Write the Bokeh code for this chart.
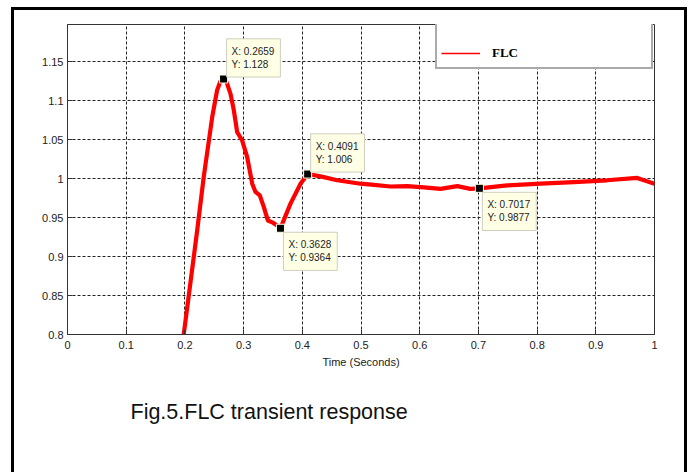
from bokeh.plotting import figure
from bokeh.layouts import column
from bokeh.models import (Range1d, FixedTicker, Label, Legend, LegendItem, Title)
from bokeh.embed import file_html
from bokeh.resources import INLINE

# ---- data ----
t = [0.185, 0.198, 0.215, 0.221, 0.232, 0.2465, 0.255, 0.2605, 0.2659, 0.271, 0.2777,
     0.2833, 0.289, 0.2976, 0.306, 0.3147, 0.3203, 0.3276, 0.3345, 0.3413, 0.3487,
     0.357, 0.3628, 0.3799, 0.397, 0.4091, 0.431, 0.4594, 0.499, 0.522, 0.550, 0.5787,
     0.607, 0.6354, 0.664, 0.6865, 0.7017, 0.749, 0.806, 0.8625, 0.919, 0.9705, 1.0]
flc = [0.725, 0.80, 0.899, 0.934, 1.002, 1.079, 1.114, 1.125, 1.128, 1.124, 1.109,
       1.088, 1.060, 1.049, 1.028, 0.9936, 0.983, 0.9786, 0.9636, 0.9464, 0.944,
       0.94, 0.9364, 0.968, 0.9936, 1.006, 1.003, 0.998, 0.9936, 0.992, 0.990, 0.9905,
       0.989, 0.987, 0.9905, 0.987, 0.9877, 0.9914, 0.9936, 0.9957, 0.998, 1.001, 0.9936]

tip_x = [0.2659, 0.3628, 0.4091, 0.7017]
tip_y = [1.128, 0.9364, 1.006, 0.9877]
tip_above = [True, False, True, False]

x_ticks = [0, 0.1, 0.2, 0.3, 0.4, 0.5, 0.6, 0.7, 0.8, 0.9, 1.0]
x_tick_labels = ["0", "0.1", "0.2", "0.3", "0.4", "0.5", "0.6", "0.7", "0.8", "0.9", "1"]
y_ticks = [0.8, 0.85, 0.9, 0.95, 1.0, 1.05, 1.1, 1.15]
y_tick_labels = ["0.8", "0.85", "0.9", "0.95", "1", "1.05", "1.1", "1.15"]

series_name = "FLC"
x_label = "Time (Seconds)"
caption = "Fig.5.FLC transient response"

# ---- figure ----
p = figure(width=670, height=462, output_backend="svg", toolbar_location=None,
           x_range=Range1d(0, 1), y_range=Range1d(0.8, 1.198),
           min_border_left=53, min_border_right=30, min_border_top=14, min_border_bottom=138)
p.background_fill_color = "white"
p.border_fill_color = "white"
p.outline_line_color = "#333333"
p.outline_line_width = 1

for ax in (p.xaxis[0], p.yaxis[0]):
    ax.major_tick_in = 5
    ax.major_tick_out = 0
    ax.minor_tick_in = 0
    ax.minor_tick_out = 0
    ax.axis_line_color = "#333333"
    ax.major_tick_line_color = "#333333"
    ax.major_label_text_font = "Liberation Sans"
    ax.major_label_text_font_size = "11px"
    ax.major_label_text_color = "#222222"

p.xaxis.ticker = FixedTicker(ticks=x_ticks)
p.yaxis.ticker = FixedTicker(ticks=y_ticks)
p.xaxis.major_label_overrides = {v: s for v, s in zip(x_ticks, x_tick_labels)}
p.yaxis.major_label_overrides = {v: s for v, s in zip(y_ticks, y_tick_labels)}
p.xaxis.major_label_standoff = 6
p.yaxis.major_label_standoff = 4
p.xaxis.axis_label = x_label
p.xaxis.axis_label_text_font = "Liberation Sans"
p.xaxis.axis_label_text_font_style = "normal"
p.xaxis.axis_label_text_font_size = "11px"
p.xaxis.axis_label_text_color = "#222222"
p.xaxis.axis_label_standoff = 4

for g in (p.xgrid[0], p.ygrid[0]):
    g.grid_line_color = "#222222"
    g.grid_line_dash = "3 2"
    g.grid_line_width = 1

# main curve
p.line(t, flc, line_color="#FF0000", line_width=4.2, line_join="round")

# legend renderer (single point -> invisible in plot, thin sample in legend)
leg_r = p.line(t[:1], flc[:1], line_color="#FF0000", line_width=1.5)
legend = Legend(items=[LegendItem(label=series_name, renderers=[leg_r])],
                location=(368, 265), title=" ", title_text_font_size="14px",
                title_standoff=2, padding=4, glyph_width=39, glyph_height=20,
                label_height=20, label_standoff=12, label_width=155,
                label_text_font="Liberation Serif", label_text_font_style="bold",
                label_text_font_size="13px", label_text_color="black",
                border_line_color="#555555", border_line_width=2,
                background_fill_color="white", background_fill_alpha=1)
p.add_layout(legend)

# data tips markers
p.scatter(tip_x, tip_y, marker="square", size=8, fill_color="black",
          line_color="#FFFFE0", line_width=1)

for xv, yv, above in zip(tip_x, tip_y, tip_above):
    lab = Label(x=xv, y=yv, text=f"X: {xv}\nY: {yv}",
                x_offset=3, y_offset=(2 if above else -4),
                text_align="left", text_baseline=("bottom" if above else "top"),
                text_font="Liberation Sans", text_font_size="10px",
                text_color="#222222", text_line_height=1.2,
                background_fill_color="#FFFFE6", background_fill_alpha=1,
                border_line_color="#CFCFBF", border_line_width=1,
                padding=dict(left=5, right=6, top=7, bottom=7))
    p.add_layout(lab)

# caption
p.add_layout(Title(text=caption, align="left", offset=63, standoff=54,
                   text_font="Liberation Sans", text_font_style="normal",
                   text_font_size="21.5px", text_color="#111111"), "below")

layout = column(p, styles={"border-left": "3px solid black",
                           "border-right": "3px solid black",
                           "border-top": "3px solid black",
                           "margin-left": "11px", "margin-top": "7px"})

open("out.html", "w").write(file_html(layout, INLINE))
